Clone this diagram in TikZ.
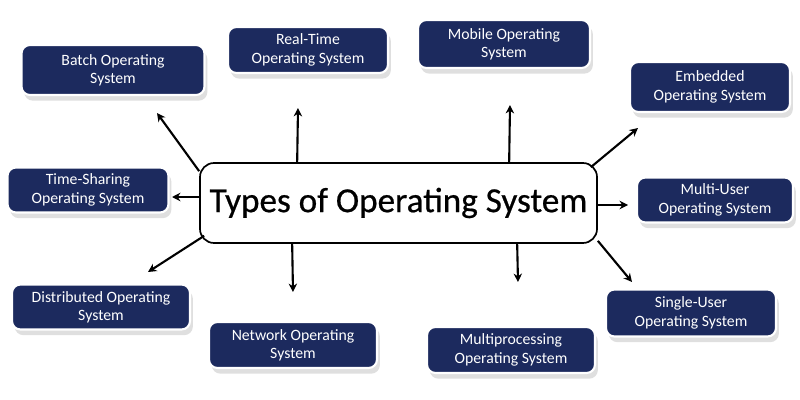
\documentclass[tikz,border=0pt]{standalone}
\usepackage{fontspec}
\setmainfont{Carlito}
\usetikzlibrary{shadows,arrows.meta}
\definecolor{navy}{HTML}{1C2A5E}
\begin{document}
\begin{tikzpicture}[x=0.025cm,y=-0.025cm,
 osbox/.style={draw=white,line width=1.5pt,fill=navy,rounded corners=6pt,text=white,align=center,font=\fontsize{11.2}{13}\selectfont,inner sep=0pt,drop shadow={shadow xshift=2pt,shadow yshift=-4pt,opacity=0.25}},
 arr/.style={-{Stealth[length=6pt,width=6pt]},line width=1.5pt}]
\useasboundingbox[fill=white] (0,0) rectangle (800,400);
\node[draw=black,line width=1.2pt,fill=white,rounded corners=10pt,minimum width=397*0.025cm,minimum height=80*0.025cm,font=\fontsize{25}{28}\selectfont] (c) at (398.5,203) {\addfontfeature{FakeBold=0.6}Types of Operating System};
\node[osbox,minimum width=183*0.025cm,minimum height=50*0.025cm] (b1) at (113,70) {Batch Operating\\System};
\node[osbox,minimum width=160*0.025cm,minimum height=46*0.025cm] (b2) at (308,50) {Real-Time\\Operating System};
\node[osbox,minimum width=172*0.025cm,minimum height=48*0.025cm] (b3) at (504,44) {Mobile Operating\\System};
\node[osbox,minimum width=160*0.025cm,minimum height=50*0.025cm] (b4) at (710,87) {Embedded\\Operating System};
\node[osbox,minimum width=161*0.025cm,minimum height=45*0.025cm] (b5) at (88,190) {Time-Sharing\\Operating System};
\node[osbox,minimum width=156*0.025cm,minimum height=45*0.025cm] (b6) at (715,200) {Multi-User\\Operating System};
\node[osbox,minimum width=178*0.025cm,minimum height=45*0.025cm] (b7) at (101,307) {Distributed Operating\\System};
\node[osbox,minimum width=168*0.025cm,minimum height=46*0.025cm] (b8) at (293,345) {Network Operating\\System};
\node[osbox,minimum width=168*0.025cm,minimum height=46*0.025cm] (b9) at (511,350) {Multiprocessing\\Operating System};
\node[osbox,minimum width=170*0.025cm,minimum height=47*0.025cm] (b10) at (691,313) {Single-User\\Operating System};
\coordinate (t1) at (157,113); \coordinate (t2) at (298,108); \coordinate (t3) at (510,105);
\coordinate (t4) at (638,128); \coordinate (t5) at (172,197); \coordinate (t6) at (628,205);
\coordinate (t7) at (148,272); \coordinate (t8) at (293,292); \coordinate (t9) at (518,282);
\coordinate (t10) at (632,282);
\draw[arr] (c.north west)++(0,9) -- (t1);
\draw[arr] (c.north west)++(98,0) -- (t2);
\draw[arr] (c.north west)++(310,0) -- (t3);
\draw[arr] (c.north east)++(-7,5) -- (t4);
\draw[arr] (c.west)++(0,-6) -- (t5);
\draw[arr] (c.east)++(0,2) -- (t6);
\draw[arr] (c.south west)++(5,-8) -- (t7);
\draw[arr] (c.south west)++(93,0) -- (t8);
\draw[arr] (c.south west)++(318,0) -- (t9);
\draw[arr] (c.south east)++(0,-3) -- (t10);
\end{tikzpicture}
\end{document}
